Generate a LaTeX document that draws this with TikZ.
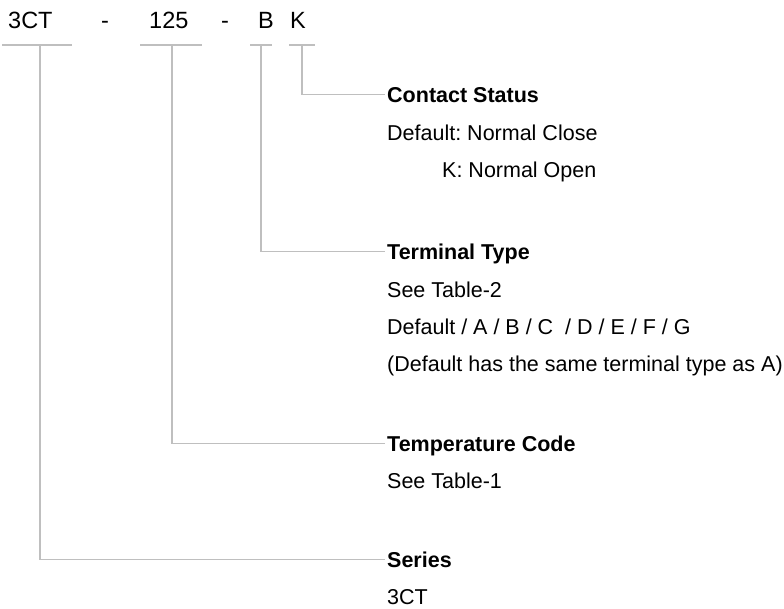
\documentclass[tikz,border=0pt]{standalone}
\usepackage{fontspec}
\setmainfont{Liberation Sans}
\frenchspacing

\begin{document}
\begin{tikzpicture}[x=1pt,y=-1pt,
  code/.style={anchor=base west,inner sep=0pt,font=\fontsize{23.5}{26}\selectfont},
  head/.style={anchor=base west,inner sep=0pt,text height=15pt,text depth=0pt,font=\fontsize{21.5}{25}\selectfont\bfseries},
  info/.style={anchor=base west,inner sep=0pt,font=\fontsize{21.5}{25}\selectfont},
  leader/.style={draw=black!25,line width=1.5pt}]
\useasboundingbox (0,0) rectangle (784,608);

% part number
\node[code] (c3ct) at (8,28) {3CT};
\node[code,anchor=base] (dash1) at (105,28) {-};
\node[code] (c125) at (149,28) {125};
\node[code,anchor=base] (dash2) at (225,28) {-};
\node[code] (cB) at (258,28) {B};
\node[code] (cK) at (290,28) {K};

\draw[leader] (2,45) -- (72,45);
\draw[leader] (140,45) -- (202,45);
\draw[leader] (250,45) -- (272,45);
\draw[leader] (289,45) -- (315,45);
\coordinate (u3ct) at (40,45);
\coordinate (u125) at (172,45);
\coordinate (uB) at (261,45);
\coordinate (uK) at (302,45);

% descriptions
\node[head] (status) at (387,102) {Contact Status};
\node[info] (status1) at (387,140) {Default: Normal Close};
\node[info] (status2) at (442,177) {K: Normal Open};

\node[head] (terminal) at (387,259) {Terminal Type};
\node[info] (terminal1) at (387,297) {See Table-2};
\node[info] (terminal2) at (387,334) {Default / A / B / C\ \ / D / E / F / G};
\node[info] (terminal3) at (387,371) {(Default has the same terminal type as A)};

\node[head] (temp) at (387,451) {Temperature Code};
\node[info] (temp1) at (387,488) {See Table-1};

\node[head] (series) at (387,567) {Series};
\node[info] (series1) at (387,604) {3CT};

% leaders
\draw[leader] (uK) |- ([xshift=-2pt]status.west);
\draw[leader] (uB) |- ([xshift=-2pt]terminal.west);
\draw[leader] (u125) |- ([xshift=-2pt]temp.west);
\draw[leader] (u3ct) |- ([xshift=-2pt]series.west);
\end{tikzpicture}
\end{document}
